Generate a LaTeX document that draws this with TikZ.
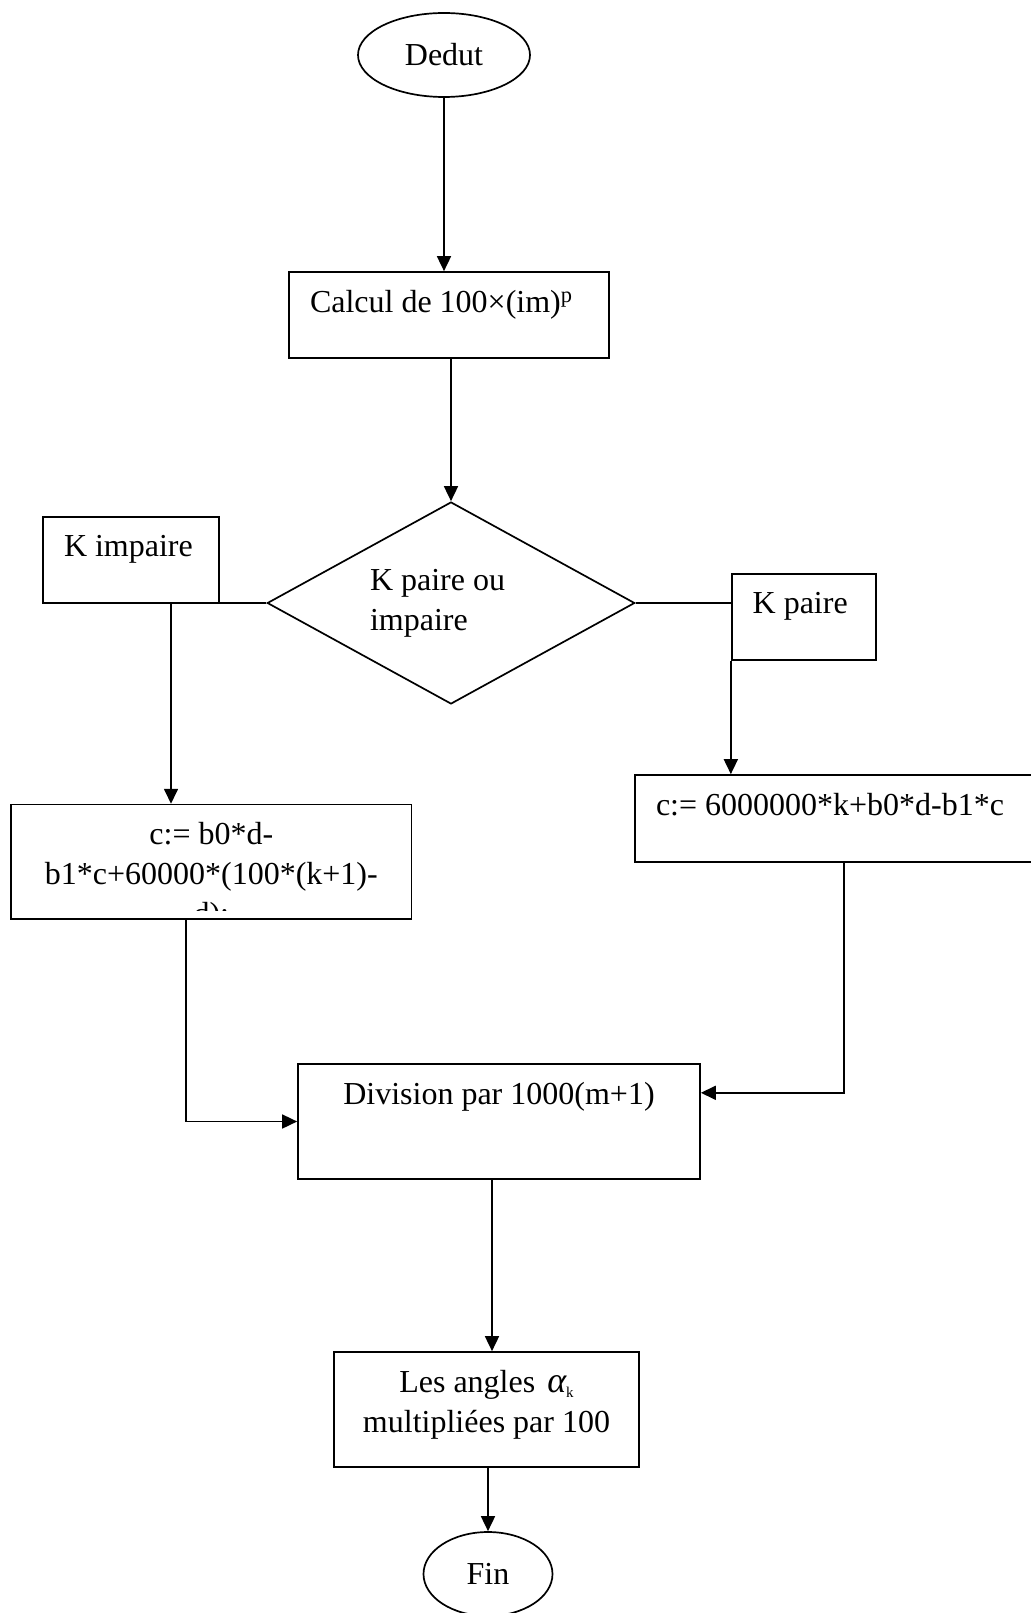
\documentclass[tikz,border=0pt]{standalone}
\usepackage{fontspec}
\setmainfont{Liberation Serif}
\usetikzlibrary{shapes.geometric,arrows.meta}

\newcommand{\lbox}{\raggedright\leftskip=21pt\relax}
\newcommand{\boxtext}[4][\centering]{\parbox[c][#3][t]{#2}{#1\rule{0pt}{40pt}#4}}
\newcommand{\subk}{\raisebox{-5pt}{\fontsize{15}{15}\selectfont k}}

\begin{document}
\begin{tikzpicture}[x=1pt,y=-1pt,line width=1.7pt,
  font=\fontsize{32}{40}\selectfont,
  arr/.style={-{Triangle[length=15pt,width=14pt]}},
  box/.style={draw,rectangle,inner sep=0pt},
  term/.style={draw,ellipse,inner sep=0pt,minimum height=84pt},
  decision/.style={draw,diamond,aspect=1.82,inner sep=0pt,text width=162pt,align=flush left}]
  \useasboundingbox (0,0) rectangle (1030,1613);

  \node[term,minimum width=172pt]       (debut)  at (444,55)    {Dedut};
  \node[box]                            (calc)   at (449,315)   {\boxtext[\lbox]{320pt}{86pt}{Calcul de 100×(im)\textsuperscript{p}}};
  \node[decision,minimum width=367.5pt,
        minimum height=202pt]           (test)   at (451,603)   {K paire ou\\impaire};
  \node[box]                            (kimp)   at (131,560)   {\boxtext[\lbox]{176pt}{86.5pt}{K impaire}};
  \node[box]                            (kpair)  at (803.7,617) {\boxtext[\lbox]{144pt}{86.6pt}{K paire}};
  \node[box]                            (cpair)  at (844,818.5) {\boxtext[\lbox]{418pt}{87pt}{c:= 6000000*k+b0*d-b1*c}};
  \node[box,minimum width=400.6pt,
        minimum height=114.4pt]         (cimp)   at (211.3,861.8) {};
  \begin{scope}
    \clip (cimp.north west) rectangle ([yshift=9pt]cimp.south east);
    \node[inner sep=0pt,anchor=north]   (cimptxt) at (cimp.north) {\boxtext{400pt}{114pt}{c:= b0*d-\\b1*c+60000*(100*(k+1)-\\d);}};
  \end{scope}
  \node[box]                            (div)    at (499,1121.5)  {\boxtext{402pt}{115pt}{Division par 1000(m+1)}};
  \node[box]                            (angles) at (486.5,1409.5){\boxtext{305pt}{115pt}{Les angles\hspace{4pt} {\fontsize{36}{40}\selectfont\itshape α}\subk\\multipliées par 100}};
  \node[term,minimum width=129pt]       (fin)    at (488,1574)  {Fin};

  \coordinate (kimpout)  at (171,603);
  \coordinate (cimpout)  at ([xshift=-25.3pt]cimp.south);
  \coordinate (divin)    at ([yshift=28.7pt]div.east);
  \coordinate (divout)   at ([xshift=-7pt]div.south);

  \draw[arr] (debut.south) -- (debut.south |- calc.north);
  \draw[arr] (test.north |- calc.south) -- (test.north);
  \draw      (test.west) -- (test.west -| kimp.east);
  \draw[arr] (kimpout) -- (kimpout |- cimp.north);
  \draw      (test.east) -- (test.east -| kpair.west);
  \draw[arr] (kpair.south west) -- (kpair.south west |- cpair.north);
  \draw[arr] (cimpout) |- (div.west);
  \draw[arr] (cpair.south) |- (divin);
  \draw[arr] (divout) -- (divout |- angles.north);
  \draw[arr] (fin.north |- angles.south) -- (fin.north);
\end{tikzpicture}
\end{document}
